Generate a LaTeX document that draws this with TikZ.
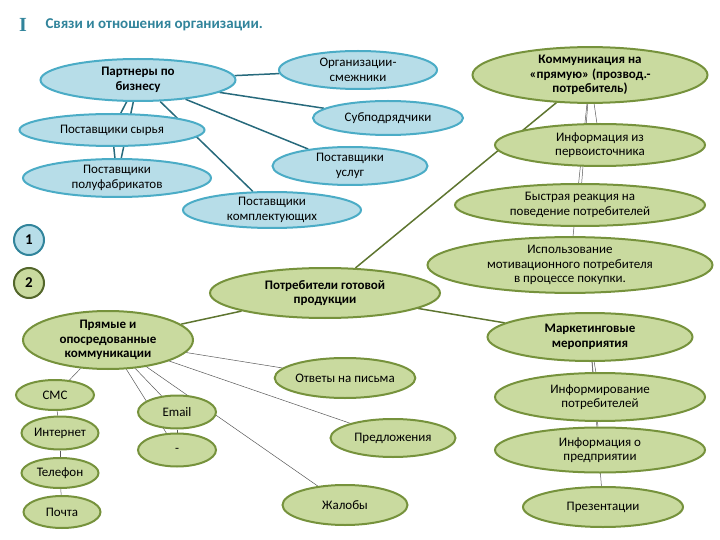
\documentclass[tikz,border=0pt]{standalone}
\usepackage{fontspec}
\setmainfont{Carlito}
\newfontfamily\serifI{Liberation Serif}
\usetikzlibrary{shapes.geometric}
\pgfdeclarelayer{bg}
\pgfsetlayers{bg,main}
\definecolor{bfill}{HTML}{B7DDE8}
\definecolor{bdraw}{HTML}{4BACC6}
\definecolor{gfill}{HTML}{C9DA9F}
\definecolor{gdraw}{HTML}{76923C}
\definecolor{ttl}{HTML}{31849B}
\tikzset{
 el/.style={ellipse,minimum width=#1,inner sep=0pt,align=center,font=\fontsize{13}{14.5}\selectfont},
 bl/.style={el=#1,fill=bfill,draw=bdraw,line width=2pt},
 gr/.style={el=#1,fill=gfill,draw=gdraw,line width=2pt},
 bline/.style={draw=ttl!80!black,line width=1.5pt},
 gline/.style={draw=gdraw!80!black,line width=1.5pt},
 thin/.style={draw=gray!70!black,line width=0.5pt},
}
\begin{document}
\begin{tikzpicture}[x=1pt,y=-1pt]
\useasboundingbox (0,0) rectangle (720,540);
\node[text=ttl,font=\serifI\bfseries\fontsize{20}{20}\selectfont] (I) at (23,25) {I};
\node[anchor=west,text=ttl,font=\bfseries\fontsize{15}{16}\selectfont] (T) at (42,25) {Связи и отношения организации.};
% blue
\node[bl=195,minimum height=42] (pb) at (138,80) {\bfseries Партнеры по\\\bfseries бизнесу};
\node[bl=158,minimum height=38] (os) at (358,70) {Организации-\\смежники};
\node[bl=150,minimum height=34] (sp) at (388,118) {Субподрядчики};
\node[bl=185,minimum height=32] (ps) at (112,130) {Поставщики сырья};
\node[bl=188,minimum height=38] (pp) at (117,178) {Поставщики\\полуфабрикатов};
\node[bl=155,minimum height=38] (pu) at (350,166) {Поставщики\\услуг};
\node[bl=178,minimum height=36] (pk) at (272,210) {Поставщики\\комплектующих};
\node[circle,fill=bfill,draw=ttl,line width=2pt,minimum size=30,inner sep=0pt,font=\bfseries\fontsize{15}{16}\selectfont] (c1) at (29,240) {1};
\node[circle,fill=gfill,draw=gdraw!70!black,line width=2pt,minimum size=30,inner sep=0pt,font=\bfseries\fontsize{15}{16}\selectfont] (c2) at (29,283) {2};
% green
\node[gr=230,minimum height=50] (pg) at (325,293) {\bfseries Потребители готовой\\\bfseries продукции};
\node[gr=235,minimum height=55] (kp) at (590,75) {\bfseries Коммуникация на\\\bfseries «прямую» (прозвод.-\\\bfseries потребитель)};
\node[gr=210,minimum height=42] (ip) at (600,145) {Информация из\\первоисточника};
\node[gr=250,minimum height=42] (br) at (580,205) {Быстрая реакция на\\поведение потребителей};
\node[gr=285,minimum height=54] (im) at (570,265) {Использование\\мотивационного потребителя\\в процессе покупки.};
\node[gr=205,minimum height=48] (mm) at (590,337) {\bfseries Маркетинговые\\\bfseries мероприятия};
\node[gr=210,minimum height=48] (inf) at (600,397) {Информирование\\потребителей};
\node[gr=210,minimum height=45] (ipr) at (600,450) {Информация о\\предприятии};
\node[gr=160,minimum height=40] (pr) at (603,507) {Презентации};
\node[gr=170,minimum height=58] (pk2) at (108,340) {\bfseries Прямые и\\\bfseries опосредованные\\\bfseries коммуникации};
\node[gr=125,minimum height=40] (ot) at (345,378) {Ответы на письма};
\node[gr=78,minimum height=30] (sms) at (55,395) {СМС};
\node[gr=78,minimum height=33] (em) at (177,412) {Email};
\node[gr=77,minimum height=33] (in) at (60,433) {Интернет};
\node[gr=78,minimum height=33] (da) at (177,450) {-};
\node[gr=77,minimum height=30] (tel) at (60,473) {Телефон};
\node[gr=77,minimum height=32] (po) at (62,512) {Почта};
\node[gr=125,minimum height=38] (pred) at (393,438) {Предложения};
\node[gr=125,minimum height=40] (zh) at (345,505) {Жалобы};
\begin{pgfonlayer}{bg}
\draw[bline] (pb) -- (os); \draw[bline] (pb) -- (sp); \draw[bline] (pb) -- (pu);
\draw[bline] (pb) -- (pk); \draw[bline] (pb) -- (ps); \draw[bline] (pb) -- (pp);
\draw[bline] (ps) -- (pp);
\draw[gline] (pg) -- (kp); \draw[gline] (pg) -- (pk2); \draw[gline] (pg) -- (mm);
\draw[thin] (kp) -- (ip); \draw[thin] (kp) -- (br); \draw[thin] (kp) -- (im);
\draw[thin] (pk2) -- (ot); \draw[thin] (pk2) -- (pred); \draw[thin] (pk2) -- (zh);
\draw[thin] (pk2) -- (sms); \draw[thin] (pk2) -- (em); \draw[thin] (pk2) -- (da);
\draw[thin] (sms) -- (in); \draw[thin] (in) -- (tel); \draw[thin] (tel) -- (po);
\draw[thin] (em) -- (da);
\draw[thin] (mm) -- (inf); \draw[thin] (mm) -- (ipr); \draw[thin] (mm) -- (pr);
\end{pgfonlayer}
\end{tikzpicture}
\end{document}
